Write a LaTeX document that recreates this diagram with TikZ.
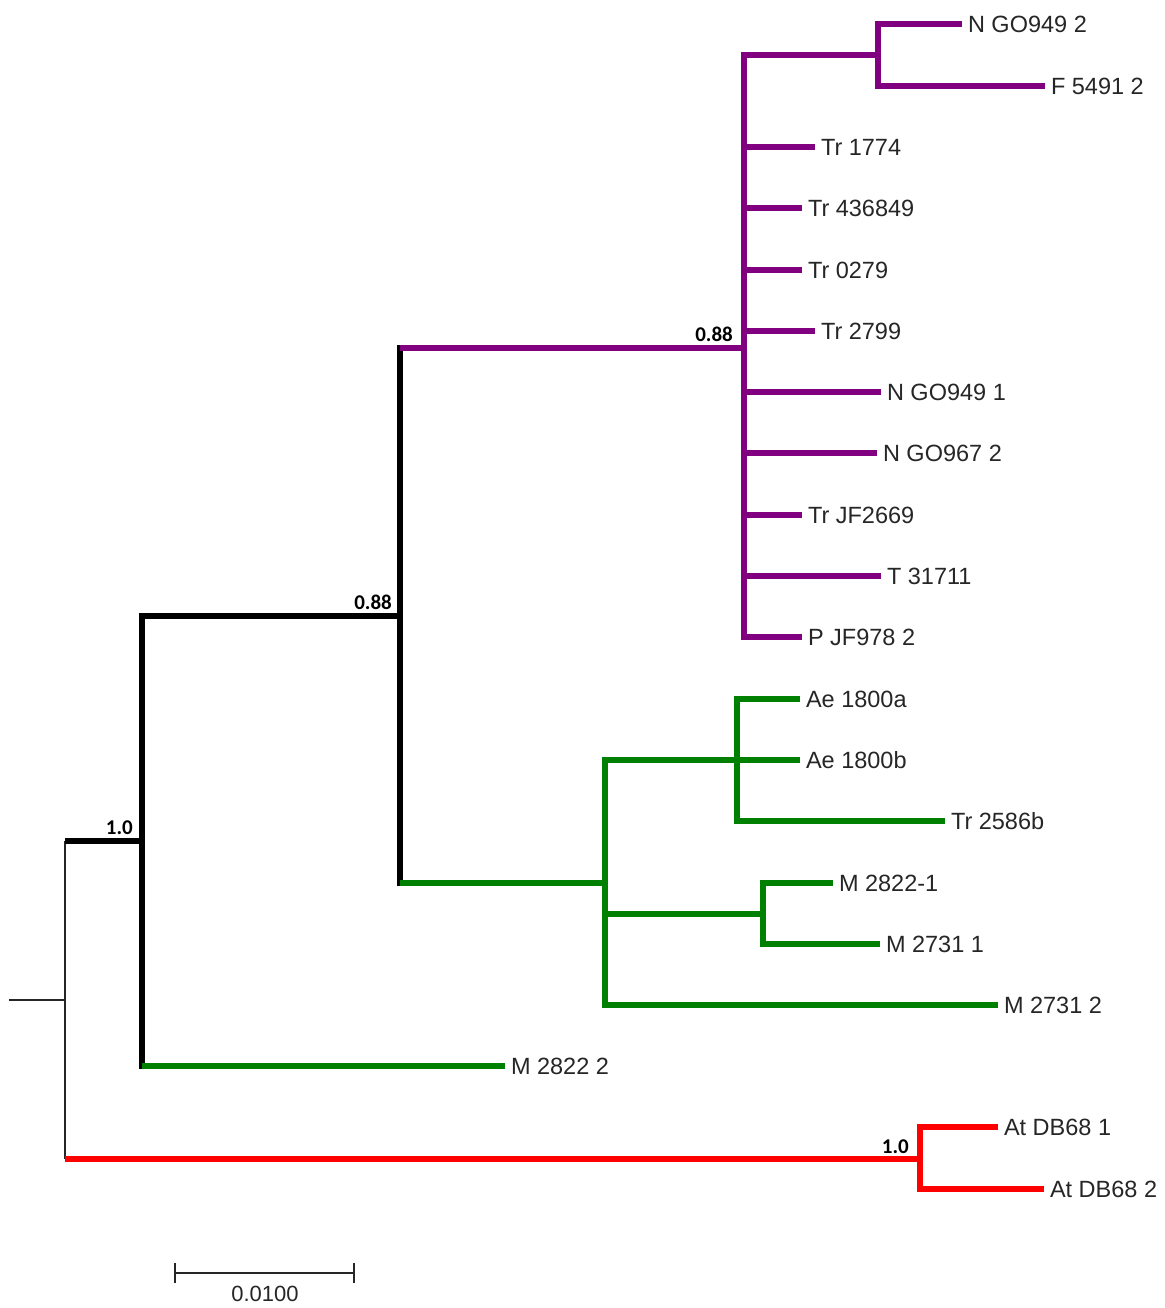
\documentclass[tikz,border=0pt]{standalone}
\usepackage{fontspec}
\setmainfont{Liberation Sans}
\newfontfamily\bsfont{Carlito}
\definecolor{cpurple}{HTML}{800080}
\definecolor{cgreen}{HTML}{008000}
\definecolor{cred}{HTML}{FF0000}
\tikzset{
  br/.style={line width=6pt, line join=miter},
  blkv/.style={br, black, line cap=rect},
  blk/.style={br, black},
  pur/.style={br, cpurple},
  grn/.style={br, cgreen},
  rd/.style={br, cred},
  thinline/.style={line width=1.8pt, black!85},
  leaf/.style={anchor=west, inner xsep=6pt, inner ysep=0pt, outer sep=0pt,
    text height=17pt, text depth=0pt, font=\fontsize{23.5}{26}\selectfont, text=black!85},
  boot/.style={anchor=south east, inner sep=0pt, font=\bsfont\bfseries\fontsize{21}{23}\selectfont}
}
\begin{document}
\begin{tikzpicture}[x=1pt,y=-1pt]
\useasboundingbox (0,0) rectangle (1164,1308);
% leaves
\node[leaf] (ngo2) at (962,24.5) {N GO949 2};
\node[leaf] (f5491) at (1045,86) {F 5491 2};
\node[leaf] (tr1774) at (815,147) {Tr 1774};
\node[leaf] (tr436) at (802,208) {Tr 436849};
\node[leaf] (tr0279) at (802,270) {Tr 0279};
\node[leaf] (tr2799) at (815,331) {Tr 2799};
\node[leaf] (ngo1) at (881,392) {N GO949 1};
\node[leaf] (ngo967) at (877,453) {N GO967 2};
\node[leaf] (trjf) at (802,515) {Tr JF2669};
\node[leaf] (t317) at (881,576) {T 31711};
\node[leaf] (pjf) at (802,637) {P JF978 2};
\node[leaf] (ae1) at (800,699) {Ae 1800a};
\node[leaf] (ae2) at (800,760) {Ae 1800b};
\node[leaf] (tr2586) at (945,821) {Tr 2586b};
\node[leaf] (m28221) at (833,883) {M 2822-1};
\node[leaf] (m27311) at (880,944) {M 2731 1};
\node[leaf] (m27312) at (998,1005) {M 2731 2};
\node[leaf] (m28222) at (505,1066) {M 2822 2};
\node[leaf] (at1) at (998,1127) {At DB68 1};
\node[leaf] (at2) at (1044,1189) {At DB68 2};
% internal nodes
\coordinate (r0) at (9,1000);
\coordinate (n1) at (65,1000);
\coordinate (c1top) at (65,841);
\coordinate (c1bot) at (65,1159);
\coordinate (n2) at (142,841);
\coordinate (c2bot) at (142,1066);
\coordinate (n4) at (400,616);
\coordinate (c4top) at (400,348);
\coordinate (c4bot) at (400,883);
\coordinate (n5) at (744,348);
\coordinate (n7) at (878,55);
\coordinate (n6) at (605,883);
\coordinate (n8) at (737,760);
\coordinate (n9) at (763,914);
\coordinate (n3) at (920,1159);
% root (thin)
\draw[thinline] (r0) -- (n1);
\draw[thinline] (c1top) -- (c1bot);
% black backbone
\draw[blk] (c1top) -- (n2);
\draw[blkv] (n2) -- (c2bot);
\draw[blk] (n2) |- (n4);
\draw[blkv] (c4top) -- (c4bot);
% purple clade
\draw[pur] (c4top) -- (n5);
\draw[pur] (n5) |- (n7);
\draw[pur] (n7) |- (ngo2.west);
\draw[pur] (n7) |- (f5491.west);
\draw[pur] (n5) |- (tr1774.west);
\draw[pur] (n5) |- (tr436.west);
\draw[pur] (n5) |- (tr0279.west);
\draw[pur] (n5) |- (tr2799.west);
\draw[pur] (n5) |- (ngo1.west);
\draw[pur] (n5) |- (ngo967.west);
\draw[pur] (n5) |- (trjf.west);
\draw[pur] (n5) |- (t317.west);
\draw[pur] (n5) |- (pjf.west);
% green clade
\draw[grn] (c4bot) -- (n6);
\draw[grn] (n6) |- (n8);
\draw[grn] (n6) |- (n9);
\draw[grn] (n6) |- (m27312.west);
\draw[grn] (n8) |- (ae1.west);
\draw[grn] (n8) |- (ae2.west);
\draw[grn] (n8) |- (tr2586.west);
\draw[grn] (n9) |- (m28221.west);
\draw[grn] (n9) |- (m27311.west);
\draw[grn] (c2bot) -- (m28222.west);
% red clade
\draw[rd] (c1bot) -- (n3);
\draw[rd] (n3) |- (at1.west);
\draw[rd] (n3) |- (at2.west);
% support values
\node[boot] (b1) at (733,342) {0.88};
\node[boot] (b2) at (392,610) {0.88};
\node[boot] (b3) at (133,835) {1.0};
\node[boot] (b4) at (909,1154) {1.0};
% scale bar
\coordinate (sb1) at (175,1273);
\coordinate (sb2) at (354,1273);
\draw[thinline] (sb1) -- (sb2);
\draw[thinline] ([yshift=-10pt]sb1) -- ([yshift=10pt]sb1);
\draw[thinline] ([yshift=-10pt]sb2) -- ([yshift=10pt]sb2);
\node[inner sep=0pt, font=\fontsize{22}{24}\selectfont, text=black!85, anchor=north] (sbl) at (265,1286) {0.0100};
\end{tikzpicture}
\end{document}
